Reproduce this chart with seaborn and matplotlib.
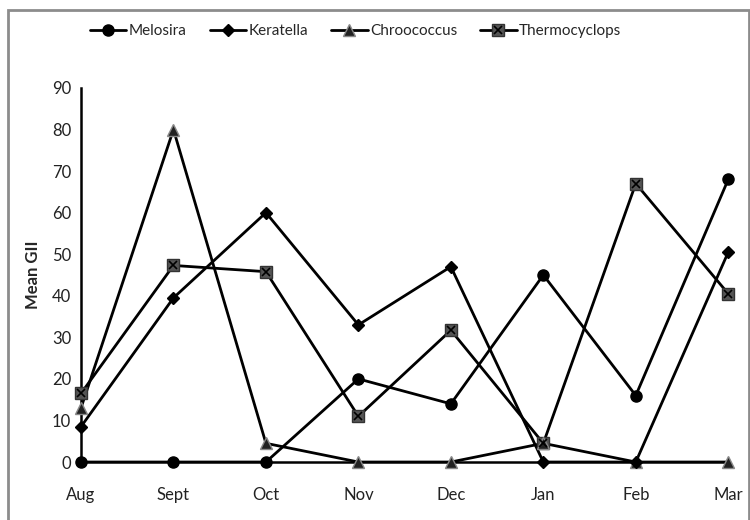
import numpy as np
import pandas as pd
import matplotlib
matplotlib.use('agg')
import matplotlib.pyplot as plt
from matplotlib.lines import Line2D
import seaborn as sns

# values
months = ['Aug', 'Sept', 'Oct', 'Nov', 'Dec', 'Jan', 'Feb', 'Mar']
melosira = [0, 0, 0, 20, 14, 45, 16, 68]
keratella = [8.5, 39.5, 60, 33, 47, 0, 0, 50.5]
chroococcus = [13, 80, 4.5, 0, 0, 4.5, 0, 0]
thermocyclops = [16.5, 47.3, 45.8, 11, 31.7, 4.5, 67, 40.5]

series = ['Melosira', 'Keratella', 'Chroococcus', 'Thermocyclops']
df = pd.DataFrame({'Melosira': melosira, 'Keratella': keratella,
                   'Chroococcus': chroococcus, 'Thermocyclops': thermocyclops})
df['x'] = np.arange(len(months))
long = df.melt(id_vars='x', var_name='species', value_name='gii')

sns.set_style('white')
plt.rcParams['font.family'] = ['Lato', 'DejaVu Sans']

fig = plt.figure(figsize=(7.5, 5.2), dpi=100)
ax = fig.add_axes([0.108, 0.1115, 0.863, 0.7193])

styles = {
    'Melosira': dict(marker='o', mfc='black', mec='black', ms=8),
    'Keratella': dict(marker='D', mfc='black', mec='black', ms=6.5),
    'Chroococcus': dict(marker='^', mfc='#222222', mec='#888888', ms=8.5),
    'Thermocyclops': dict(marker='s', mfc='#555555', mec='#333333', ms=8),
}

# draw in reverse so Melosira sits on top
for name in series[::-1]:
    sub = long[long['species'] == name]
    sns.lineplot(data=sub, x='x', y='gii', ax=ax, color='black', lw=2,
                 legend=False, zorder=3)
    st = styles[name]
    ax.plot(sub['x'], sub['gii'], ls='none', marker=st['marker'],
            mfc=st['mfc'], mec=st['mec'], ms=st['ms'], mew=1, zorder=4,
            clip_on=False)
    if name == 'Thermocyclops':
        ax.plot(sub['x'], sub['gii'], ls='none', marker='x', color='black',
                ms=6, mew=1.2, zorder=5, clip_on=False)

ax.set_xlim(0, len(months) - 1)
ax.set_ylim(0, 90)
ax.set_yticks(range(0, 91, 10))
ax.set_xticks(range(len(months)))
ax.set_xticklabels(months)
ax.tick_params(axis='y', direction='out', length=4, width=1.5, color='black',
               labelsize=12, labelcolor='#222222', pad=3)
ax.tick_params(axis='x', length=0, labelsize=12, labelcolor='#222222', pad=18)
ax.set_xlabel('')
ax.set_ylabel('Mean GII', fontsize=12, fontweight='bold', labelpad=8)
for s in ['top', 'right']:
    ax.spines[s].set_visible(False)
for s in ['left', 'bottom']:
    ax.spines[s].set_color('black')
    ax.spines[s].set_linewidth(1.8)

# legend with line + marker handles
handles = []
for name in series:
    st = styles[name]
    h = Line2D([], [], color='black', lw=2, marker=st['marker'],
               mfc=st['mfc'], mec=st['mec'], ms=st['ms'])
    if name == 'Thermocyclops':
        hx = Line2D([], [], ls='none', marker='x', color='black', ms=6, mew=1.2)
        h = (h, hx)
    handles.append(h)
fig.legend(handles, series, loc='center left', bbox_to_anchor=(76 / 750, 0.94),
           ncol=4, frameon=False, fontsize=11, handlelength=2.4,
           handletextpad=0.15, columnspacing=1.5)

# gray frame around the chart
fig.add_artist(plt.Rectangle((8 / 750, -0.01), 741 / 750, 1.01 - 10 / 520,
                             transform=fig.transFigure, fill=False,
                             edgecolor='#8c8c8c', lw=2))

fig.savefig('out.png', dpi=100)
